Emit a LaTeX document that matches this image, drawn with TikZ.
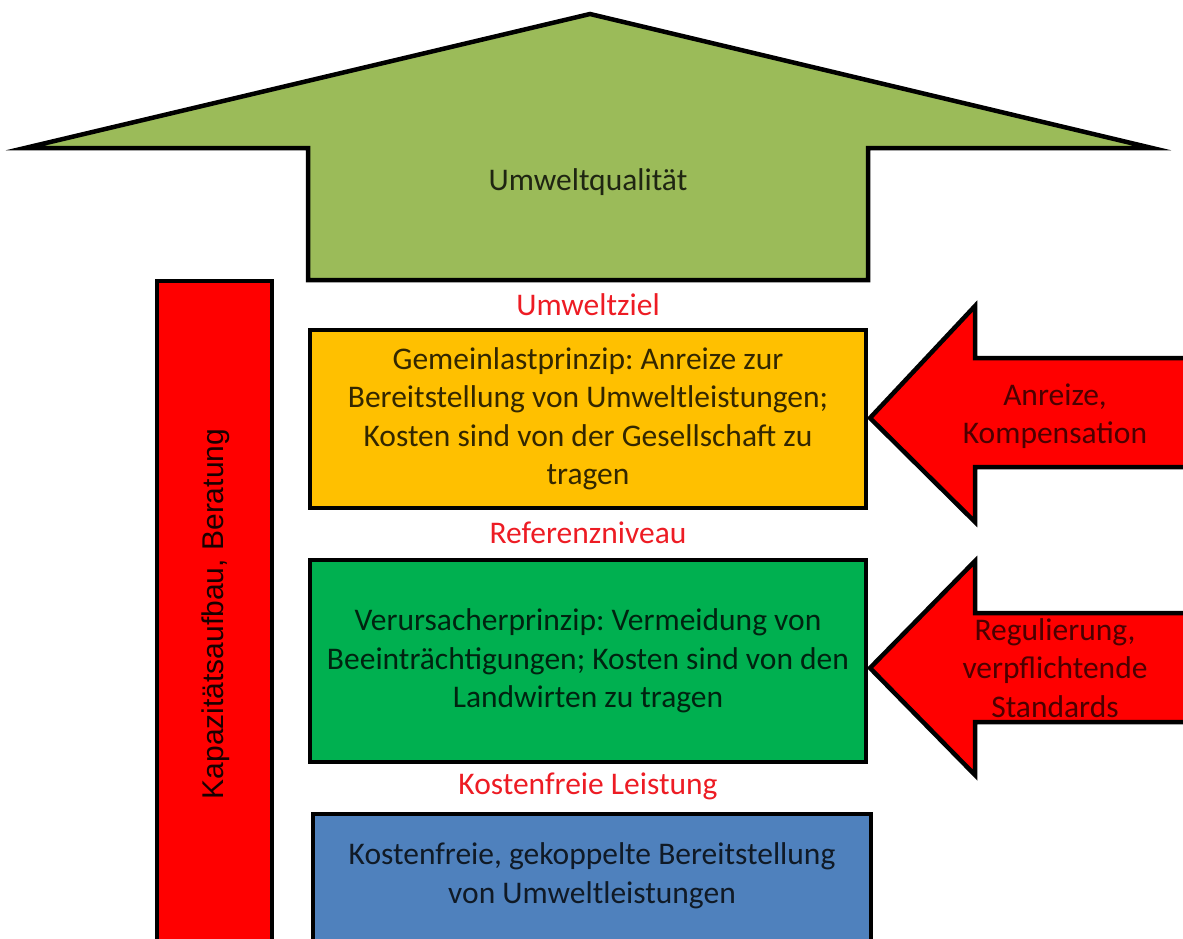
\documentclass[tikz,border=0pt]{standalone}
\usepackage{fontspec}
\setmainfont{Carlito}
\newfontfamily\arialf{Liberation Sans}
\definecolor{garrow}{RGB}{155,187,89}
\definecolor{orangebox}{RGB}{255,192,0}
\definecolor{greenbox}{RGB}{0,176,80}
\definecolor{bluebox}{RGB}{79,129,189}
\definecolor{redbox}{RGB}{255,0,0}
\definecolor{lblred}{RGB}{237,28,36}
\frenchspacing
\begin{document}
\begin{tikzpicture}[x=1pt,y=-1pt,line join=miter,
  shp/.style={draw=black,line width=4.5pt},
  txt/.style={font=\fontsize{31.5}{38.5}\selectfont,align=center,inner sep=0pt},
  lbl/.style={txt,text=lblred}]
\useasboundingbox (0,0) rectangle (1183,938);
\clip (0,0) rectangle (1183,938);
% big green arrow
\draw[shp,fill=garrow] (590,14) -- (1152,148) -- (868,148) -- (868,280) -- (308,280) -- (308,148) -- (25,148) -- cycle;
\node[txt,text=black!80!garrow] (quality) at (588,182) {Umweltqualität};
% red vertical bar
\draw[shp,fill=redbox] (157,281) rectangle (272,960);
\node[rotate=90,inner sep=0pt,font=\arialf\fontsize{30}{34}\selectfont,text=black!90!redbox] (kap) at (216,614) {Kapazitätsaufbau, Beratung};
% boxes
\node[shp,fill=orangebox,minimum width=556,minimum height=178,inner sep=0pt] (gemein) at (588,419) {};
\node[txt,text=black!80!orangebox] (gemeint) at (gemein.center) {Gemeinlastprinzip: Anreize zur\\Bereitstellung von Umweltleistungen;\\Kosten sind von der Gesellschaft zu\\tragen};
\node[shp,fill=greenbox,minimum width=556,minimum height=202,inner sep=0pt] (verurs) at (588,661) {};
\node[txt,text=black!80!greenbox] (verurst) at (verurs.center) {Verursacherprinzip: Vermeidung von\\Beeinträchtigungen; Kosten sind von den\\Landwirten zu tragen};
\draw[shp,fill=bluebox] (313,814) rectangle (871,960);
\node[txt,text=black!80!bluebox] (kostent) at (592,876) {Kostenfreie, gekoppelte Bereitstellung\\von Umweltleistungen};
% red labels
\node[lbl] (ziel) at (588,305) {Umweltziel};
\node[lbl] (ref) at (588,533) {Referenzniveau};
\node[lbl] (frei) at (588,786) {Kostenfreie Leistung};
% red arrows
\draw[shp,fill=redbox] (870,418) -- (975,306) -- (975,358) -- (1200,358) -- (1200,467) -- (975,467) -- (975,522) -- cycle;
\node[txt,text=black!70!redbox] (anreiz) at (1055,416) {Anreize,\\Kompensation};
\draw[shp,fill=redbox] (870,668) -- (975,561) -- (975,613) -- (1200,613) -- (1200,722) -- (975,722) -- (975,775) -- cycle;
\node[txt,text=black!70!redbox] (regul) at (1055,668) {Regulierung,\\verpflichtende\\Standards};
\end{tikzpicture}
\end{document}
